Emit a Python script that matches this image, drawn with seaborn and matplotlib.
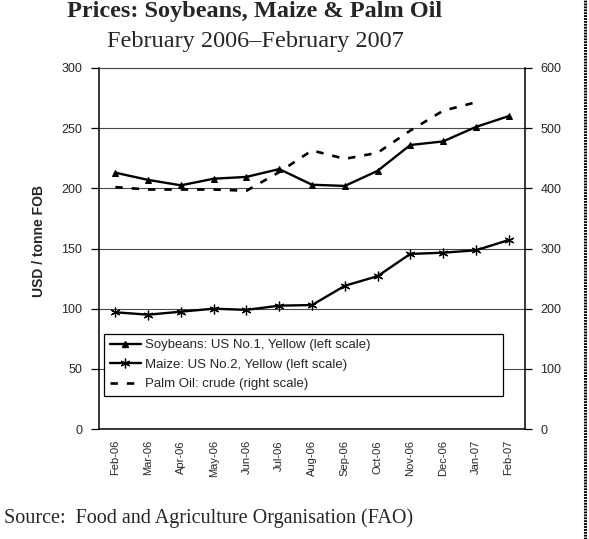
import numpy as np
import pandas as pd
import matplotlib
matplotlib.use("Agg")
import matplotlib.pyplot as plt
import seaborn as sns
from matplotlib.lines import Line2D

# ---------------- data ----------------
months = ["Feb-06", "Mar-06", "Apr-06", "May-06", "Jun-06", "Jul-06", "Aug-06",
          "Sep-06", "Oct-06", "Nov-06", "Dec-06", "Jan-07", "Feb-07"]
soybeans = [213, 207, 202.5, 208, 209.5, 216, 203, 202, 214.5, 236, 239, 251, 260]
maize = [97, 95, 97.5, 100, 99, 102.5, 103, 119, 127, 145.5, 146.5, 148.5, 157]
palm_oil = [402, 398, 398, 398, 396, 427, 463, 449, 459, 496, 529, 543, np.nan]
left_ticks = [0, 50, 100, 150, 200, 250, 300]
right_ticks = [0, 100, 200, 300, 400, 500, 600]
series_labels = ["Soybeans: US No.1, Yellow (left scale)",
                 "Maize: US No.2, Yellow (left scale)",
                 "Palm Oil: crude (right scale)"]

df = pd.DataFrame({"pos": np.arange(len(months)), "month": months,
                   "soy": soybeans, "maize": maize, "palm": palm_oil})

sns.set_style("white")
plt.rcParams["font.family"] = ["Liberation Sans", "DejaVu Sans"]

W, H = 589, 539
fig = plt.figure(figsize=(W / 100, H / 100), dpi=100)
ax = fig.add_axes([99 / W, 1 - 429 / H, (525 - 99) / W, (429 - 68) / H])
ax2 = ax.twinx()
ax2.set_position(ax.get_position())

LW = 1.7
DASH = (0, (2.8, 3.4))
sns.lineplot(data=df, x="pos", y="soy", ax=ax, color="black", lw=LW,
             marker="^", markersize=5, markeredgecolor="black",
             markerfacecolor="black", legend=False)
sns.lineplot(data=df, x="pos", y="maize", ax=ax, color="black", lw=LW,
             marker=(6, 2, 0), markersize=7, markeredgecolor="black",
             markeredgewidth=0.9, legend=False)
sns.lineplot(data=df.dropna(subset=["palm"]), x="pos", y="palm", ax=ax2,
             color="black", lw=1.9, linestyle=DASH, legend=False)

# left axis
ax.set_xlim(-0.5, len(months) - 0.5)
ax.set_ylim(0, 300)
ax.set_yticks(left_ticks)
ax.set_yticklabels([str(t) for t in left_ticks], fontsize=9)
ax.yaxis.grid(True, color="#4a4a4a", lw=0.8)
ax.xaxis.grid(False)
ax.set_axisbelow(True)

ax.set_xticks(np.arange(-0.5, len(months), 1))
ax.set_xticklabels([])
ax.set_xticks(df["pos"], minor=True)
ax.set_xticklabels(months, minor=True, rotation=90, fontsize=8)
ax.tick_params(axis="x", which="major", direction="out", length=5, width=0.9,
               color="black")
ax.tick_params(axis="x", which="minor", length=0, pad=8)
ax.tick_params(axis="y", direction="out", length=6, width=0.9, color="black",
               pad=6, left=True)
ax.set_xlabel("")
ax.set_ylabel("USD / tonne FOB", fontsize=10, fontweight="bold")
ax.yaxis.set_label_coords(-0.125, 0.521)

for s in ["left", "bottom"]:
    ax.spines[s].set_color("black")
    ax.spines[s].set_linewidth(1.1)
ax.spines["right"].set_visible(False)
ax.spines["top"].set_color("#4a4a4a")
ax.spines["top"].set_linewidth(0.8)

# right axis
ax2.set_ylim(0, 600)
ax2.set_yticks(right_ticks)
ax2.set_yticklabels([str(t) for t in right_ticks], fontsize=9)
ax2.tick_params(axis="y", direction="out", length=5, width=0.9, color="black",
                pad=6, right=True)
ax2.set_ylabel("")
ax2.grid(False)
for s in ["left", "bottom", "top"]:
    ax2.spines[s].set_visible(False)
ax2.spines["right"].set_color("black")
ax2.spines["right"].set_linewidth(1.1)

# legend
handles = [
    Line2D([], [], color="black", lw=LW, marker="^", markersize=5,
           markerfacecolor="black"),
    Line2D([], [], color="black", lw=LW, marker=(6, 2, 0), markersize=7,
           markeredgewidth=0.9),
    Line2D([], [], color="black", lw=1.9, linestyle=DASH),
]
leg = ax2.legend(handles, series_labels, loc="lower left",
                 bbox_to_anchor=(5 / 426, 33 / 361, 399 / 426, 0.17),
                 mode="expand", fontsize=9.5, frameon=True, fancybox=False,
                 edgecolor="black", framealpha=1, handlelength=2.4,
                 handletextpad=0.3, labelspacing=0.55, borderpad=0.42,
                 borderaxespad=0)
leg.get_frame().set_linewidth(0.9)
leg.set_zorder(10)

# titles and source
fig.text(255 / W, 1 - 17 / H, "Prices: Soybeans, Maize & Palm Oil",
         ha="center", va="baseline", fontsize=17.5, fontweight="bold",
         family="Liberation Serif")
fig.text(255 / W, 1 - 46.7 / H, "February 2006\u2013February 2007",
         ha="center", va="baseline", fontsize=17.5, family="Liberation Serif")
fig.text(4 / W, 1 - 523 / H, "Source:  Food and Agriculture Organisation (FAO)",
         ha="left", va="baseline", fontsize=14.5, family="Liberation Serif")

# page border at right
fig.add_artist(Line2D([584.5 / W, 584.5 / W], [0, 1], transform=fig.transFigure,
                      color="black", lw=2.2, linestyle=(0, (0.6, 0.35))))

fig.savefig("out.png", dpi=100, facecolor="white")
